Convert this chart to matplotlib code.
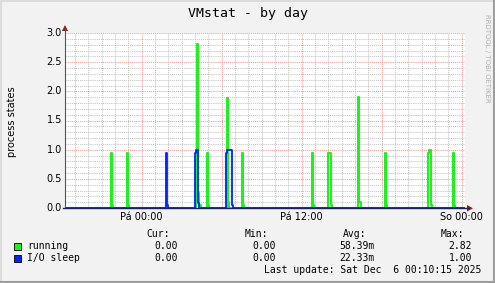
import numpy as np
import matplotlib
matplotlib.use("Agg")
import matplotlib.pyplot as plt
from matplotlib.lines import Line2D
from matplotlib.patches import Rectangle, Polygon

# -----------------------------
# Data (5-minute samples, hours relative to Fri 00:00)
# -----------------------------
t_start = -5.75
n_samples = 360
step_h = 5.0 / 60.0

# non-zero samples: index -> value
running_idx = [41, 42, 56, 57, 118, 119, 120, 121, 128, 129, 146, 147,
               159, 160, 222, 223, 237, 238, 239, 264, 265, 288, 289,
               327, 328, 329, 349, 350]
running_val = [0.95, 0.05, 0.95, 0.05, 0.95, 2.82, 0.26, 0.05, 0.94, 0.05, 1.88, 0.10,
               0.94, 0.05, 0.94, 0.05, 0.94, 0.94, 0.05, 1.90, 0.10, 0.94, 0.05,
               0.95, 1.00, 0.05, 0.94, 0.05]

iosleep_idx = [91, 92, 117, 118, 119, 120, 145, 146, 147, 148, 149, 150]
iosleep_val = [0.95, 0.05, 0.95, 1.00, 1.00, 0.08, 0.95, 1.00, 1.00, 1.00, 1.00, 0.05]

series_names = ["running", "I/O sleep"]
series_colors = ["#22ee22", "#0022ff"]
stat_headers = ["Cur:", "Min:", "Avg:", "Max:"]
stat_values = [["0.00", "0.00", "58.39m", "2.82"],
               ["0.00", "0.00", "22.33m", "1.00"]]

xtick_pos = [0, 12, 24]
xtick_labels = ["Pá 00:00", "Pá 12:00", "So 00:00"]
ytick_pos = [0.0, 0.5, 1.0, 1.5, 2.0, 2.5, 3.0]

t = t_start + np.arange(n_samples) * step_h
running = np.zeros(n_samples)
running[running_idx] = running_val
iosleep = np.zeros(n_samples)
iosleep[iosleep_idx] = iosleep_val

# -----------------------------
# Figure
# -----------------------------
W, H = 495, 283
fig = plt.figure(figsize=(W / 100, H / 100), dpi=100, facecolor="#f2f2f2")

def fx(px):
    return px / W

def fy(py):
    return 1 - py / H

ax = fig.add_axes([fx(65), fy(208), fx(400), 175 / H])
ax.set_facecolor("white")
ax.set_xlim(t_start, t_start + 30.0)
ax.set_ylim(0, 3.0)

# grid
for h in range(-5, 25):
    if h % 6 == 0:
        continue
    ax.axvline(h, color="#c4c4c4", lw=0.75, ls=(0, (1, 1)), zorder=1)
for v in np.arange(0.1, 3.01, 0.1):
    if abs(v * 2 - round(v * 2)) < 1e-6:
        continue
    ax.axhline(v, color="#c4c4c4", lw=0.75, ls=(0, (1, 1)), zorder=1)
for h in range(0, 25, 6):
    ax.axvline(h, color="#f09a9a", lw=0.75, ls=(0, (1, 1)), zorder=1.5)
for v in ytick_pos[1:]:
    ax.axhline(v, color="#f09a9a", lw=0.75, ls=(0, (1, 1)), zorder=1.5)

# series
ax.step(t, running, where="post", color=series_colors[0], lw=1.5, zorder=3)
ax.step(t, iosleep, where="post", color=series_colors[1], lw=1.3, zorder=4)

for s in ax.spines.values():
    s.set_visible(False)
ax.set_xticks([])
ax.set_yticks([])

# axes lines and arrows
fig.add_artist(Line2D([fx(65), fx(65)], [fy(208), fy(28)], color="#555555", lw=0.8))
fig.add_artist(Line2D([fx(63), fx(468)], [fy(208.3), fy(208.3)], color="#1c1c70", lw=1.0))
fig.add_artist(Polygon([[fx(62), fy(31)], [fx(68), fy(31)], [fx(65), fy(25)]],
                       closed=True, color="#8b1a1a", lw=0))
fig.add_artist(Polygon([[fx(467), fy(205)], [fx(467), fy(211.5)], [fx(473), fy(208.3)]],
                       closed=True, color="#8b1a1a", lw=0))

# tick labels
for v in ytick_pos:
    fig.text(fx(62), fy(208 - v * 175 / 3.0), "%.1f" % v, ha="right", va="center",
             fontsize=7, family="DejaVu Sans")
for p, lab in zip(xtick_pos, xtick_labels):
    fig.text(fx(65 + (p - t_start) * 400 / 30.0), fy(217), lab, ha="center", va="center",
             fontsize=7, family="DejaVu Sans")

fig.text(fx(12), fy(122), "process states", rotation=90, ha="center", va="center",
         fontsize=7, family="DejaVu Sans")
fig.text(fx(248), fy(14), "VMstat - by day", ha="center", va="center",
         fontsize=9.5, family="DejaVu Sans Mono")
fig.text(fx(487), fy(58), "RRDTOOL / TOBI OETIKER", rotation=270, ha="center", va="center",
         fontsize=5, family="DejaVu Sans", color="#b0b0b0")

# legend
mono = dict(fontsize=7, family="DejaVu Sans Mono", va="center")
head_right = [170, 268, 366, 464]
val_right = [178, 276, 375, 472]
for hx, hd in zip(head_right, stat_headers):
    fig.text(fx(hx), fy(234), hd, ha="right", **mono)
for i, (name, col) in enumerate(zip(series_names, series_colors)):
    y = 246 + i * 12
    fig.add_artist(Rectangle((fx(13.5), fy(y + 3.5)), fx(7), 7 / H, facecolor=col,
                             edgecolor="black", lw=0.6))
    fig.text(fx(27), fy(y), name, ha="left", **mono)
    for vx, val in zip(val_right, stat_values[i]):
        fig.text(fx(vx), fy(y), val, ha="right", **mono)
fig.text(fx(481), fy(270), "Last update: Sat Dec  6 00:10:15 2025", ha="right", **mono)

# frame shading
fig.add_artist(Line2D([0, 1], [fy(0.5), fy(0.5)], color="#dcdcdc", lw=1.5))
fig.add_artist(Line2D([fx(0.5), fx(0.5)], [0, 1], color="#dcdcdc", lw=1.5))
fig.add_artist(Line2D([0, 1], [fy(282), fy(282)], color="#9e9e9e", lw=1.5))
fig.add_artist(Line2D([fx(494), fx(494)], [0, 1], color="#9e9e9e", lw=1.5))

fig.savefig("out.png", dpi=100, facecolor=fig.get_facecolor())
